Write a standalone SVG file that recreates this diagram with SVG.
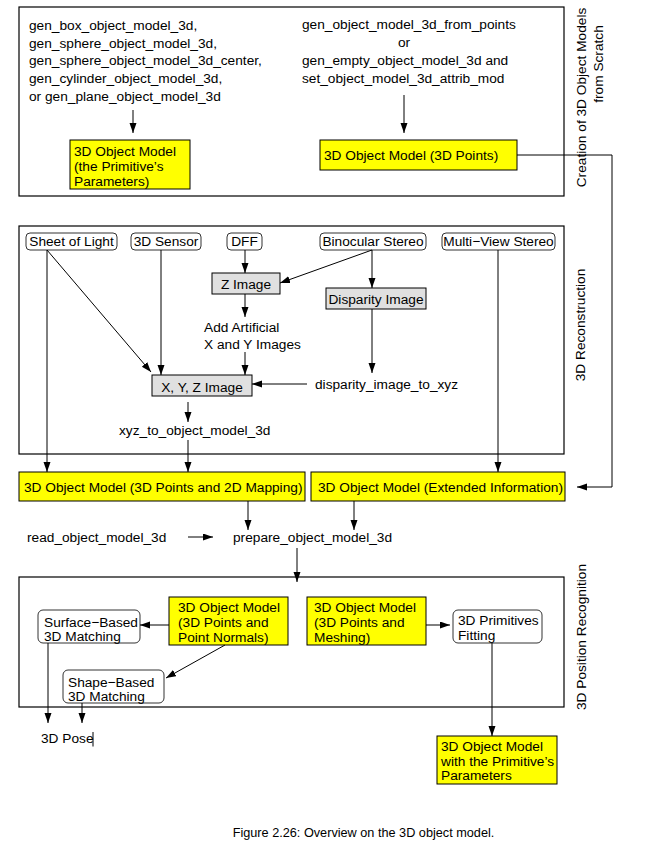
<svg xmlns="http://www.w3.org/2000/svg" width="657" height="851" viewBox="0 0 657 851">
<defs>
<marker id="ah" markerUnits="userSpaceOnUse" markerWidth="10" markerHeight="8" refX="10" refY="3.5" orient="auto">
<path d="M0,0 L10,3.5 L0,7 z" fill="#000"/>
</marker>
<style>
text{font-family:"Liberation Sans",Arial,sans-serif;font-size:13.7px;fill:#000}
.frame{fill:none;stroke:#000;stroke-width:1.2}
.yel{fill:#ffff00;stroke:#000;stroke-width:1}
.gray{fill:#e0e0e0;stroke:#000;stroke-width:1}
.rnd{fill:#fff;stroke:#333;stroke-width:1}
.c line,.c polyline{stroke:#000;stroke-width:1;fill:none}
.a{marker-end:url(#ah)}
.mid{text-anchor:middle}
</style>
</defs>
<rect width="657" height="851" fill="#fff"/>

<g id="frame-creation">
<rect class="frame" x="19" y="7" width="545" height="189"/>
<text class="mid" transform="translate(586,97.5) rotate(-90)">Creation of 3D Object Models</text>
<text class="mid" transform="translate(603,64) rotate(-90)">from Scratch</text>
</g>
<g id="frame-reconstruction">
<rect class="frame" x="19" y="226" width="545" height="228"/>
<text class="mid" transform="translate(585,325) rotate(-90)">3D Reconstruction</text>
</g>
<g id="frame-recognition">
<rect class="frame" x="19" y="577" width="545" height="130"/>
<text class="mid" transform="translate(586,637) rotate(-90)">3D Position Recognition</text>
</g>

<g id="gen-primitives">
<text x="29" y="30">gen_box_object_model_3d,</text>
<text x="29" y="47.7">gen_sphere_object_model_3d,</text>
<text x="29" y="65.3">gen_sphere_object_model_3d_center,</text>
<text x="29" y="82.7">gen_cylinder_object_model_3d,</text>
<text x="29" y="100.7">or gen_plane_object_model_3d</text>
</g>
<g id="gen-points">
<text x="302" y="28.5">gen_object_model_3d_from_points</text>
<text x="404" y="46.7" class="mid">or</text>
<text x="302" y="65">gen_empty_object_model_3d and</text>
<text x="302" y="83.3">set_object_model_3d_attrib_mod</text>
</g>
<g id="om-primitive-params">
<rect class="yel" x="70" y="140" width="120" height="49"/>
<text x="74" y="156">3D Object Model</text>
<text x="74" y="170.5">(the Primitive’s</text>
<text x="74" y="185.5">Parameters)</text>
</g>
<g id="om-3d-points">
<rect class="yel" x="320" y="140" width="197" height="30"/>
<text x="324" y="160">3D Object Model (3D Points)</text>
</g>

<g id="sheet-of-light"><rect class="rnd" x="26" y="233" width="91" height="17" rx="4"/><text class="mid" x="71.5" y="246">Sheet of Light</text></g>
<g id="sensor-3d"><rect class="rnd" x="131" y="233" width="70" height="17" rx="4"/><text class="mid" x="166" y="246">3D Sensor</text></g>
<g id="dff"><rect class="rnd" x="227" y="233" width="35" height="17" rx="4"/><text class="mid" x="244.5" y="246">DFF</text></g>
<g id="binocular-stereo"><rect class="rnd" x="320" y="233" width="106" height="17" rx="4"/><text class="mid" x="373" y="246">Binocular Stereo</text></g>
<g id="multiview-stereo"><rect class="rnd" x="442" y="233" width="113" height="17" rx="4"/><text class="mid" x="498.5" y="246">Multi−View Stereo</text></g>

<g id="z-image"><rect class="gray" x="212" y="273" width="68" height="21"/><text class="mid" x="246" y="288.5">Z Image</text></g>
<g id="disparity-image"><rect class="gray" x="326" y="288" width="100" height="21"/><text class="mid" x="376" y="304">Disparity Image</text></g>
<g id="add-xy"><text x="204" y="332">Add Artificial</text><text x="204" y="348.5">X and Y Images</text></g>
<g id="xyz-image"><rect class="gray" x="152" y="375" width="100" height="21"/><text class="mid" x="202" y="391.5">X, Y, Z Image</text></g>
<g id="disparity-to-xyz"><text x="315" y="388.5">disparity_image_to_xyz</text></g>
<g id="xyz-to-om"><text x="119" y="434.5">xyz_to_object_model_3d</text></g>

<g id="om-2d-mapping"><rect class="yel" x="19" y="472" width="286" height="29"/><text x="24" y="491.5">3D Object Model (3D Points and 2D Mapping)</text></g>
<g id="om-extended"><rect class="yel" x="311" y="472" width="254" height="29"/><text x="318" y="491.5">3D Object Model (Extended Information)</text></g>

<g id="read-om"><text x="27" y="542">read_object_model_3d</text></g>
<g id="prepare-om"><text x="233" y="542">prepare_object_model_3d</text></g>

<g id="surface-matching"><rect class="rnd" x="38" y="610" width="102" height="33" rx="5"/><text x="44" y="627">Surface−Based</text><text x="44" y="640.5">3D Matching</text></g>
<g id="om-normals"><rect class="yel" x="169" y="597" width="119" height="48"/><text x="178" y="612">3D Object Model</text><text x="178" y="627">(3D Points and</text><text x="178" y="641.5">Point Normals)</text></g>
<g id="shape-matching"><rect class="rnd" x="63" y="670" width="101" height="33" rx="5"/><text x="68" y="687">Shape−Based</text><text x="68" y="700.5">3D Matching</text></g>
<g id="om-meshing"><rect class="yel" x="307" y="597" width="119" height="48"/><text x="314" y="612">3D Object Model</text><text x="314" y="627">(3D Points and</text><text x="314" y="641.5">Meshing)</text></g>
<g id="primitives-fitting"><rect class="rnd" x="453" y="610" width="89" height="33" rx="5"/><text x="458" y="625">3D Primitives</text><text x="458" y="640">Fitting</text></g>
<g id="om-primitive-result"><rect class="yel" x="437" y="736" width="120" height="48"/><text x="441" y="751">3D Object Model</text><text x="441" y="765.5">with the Primitive’s</text><text x="441" y="780">Parameters</text></g>
<g id="pose-3d"><text x="41" y="743">3D Pose</text><line x1="93" y1="732" x2="93" y2="746.5" stroke="#000" stroke-width="1"/></g>

<g id="caption"><text class="mid" x="363.5" y="836.5" style="font-size:12.7px">Figure 2.26: Overview on the 3D object model.</text></g>

<g id="connectors" class="c">
<line class="a" x1="133" y1="110" x2="133" y2="133"/>
<line class="a" x1="404" y1="95" x2="404" y2="133"/>
<polyline class="a" points="517,155 612,155 612,487 577,487"/>
<line class="a" x1="245" y1="250" x2="245" y2="273"/>
<line class="a" x1="372" y1="250" x2="280" y2="283"/>
<line class="a" x1="372" y1="250" x2="372" y2="288"/>
<line class="a" x1="245" y1="294" x2="245" y2="317"/>
<line class="a" x1="245" y1="352" x2="245" y2="375"/>
<line class="a" x1="372" y1="309" x2="372" y2="373"/>
<line class="a" x1="307" y1="384" x2="252" y2="384"/>
<line class="a" x1="47" y1="250" x2="151" y2="372"/>
<line class="a" x1="47" y1="250" x2="47" y2="472"/>
<line class="a" x1="161" y1="250" x2="161" y2="375"/>
<line class="a" x1="188" y1="402" x2="188" y2="422"/>
<line class="a" x1="188" y1="440" x2="188" y2="472"/>
<line class="a" x1="498" y1="250" x2="498" y2="472"/>
<line class="a" x1="248" y1="501" x2="248" y2="530"/>
<line class="a" x1="354" y1="501" x2="354" y2="530"/>
<line class="a" x1="188" y1="537" x2="213" y2="537"/>
<line class="a" x1="297" y1="548" x2="297" y2="582"/>
<line class="a" x1="169" y1="625" x2="140" y2="625"/>
<line class="a" x1="225" y1="645" x2="166" y2="678"/>
<line class="a" x1="426" y1="625" x2="450" y2="625"/>
<line class="a" x1="492" y1="643" x2="492" y2="736"/>
<line class="a" x1="48" y1="643" x2="48" y2="723"/>
<line class="a" x1="82" y1="703" x2="82" y2="723"/>
</g>
</svg>
